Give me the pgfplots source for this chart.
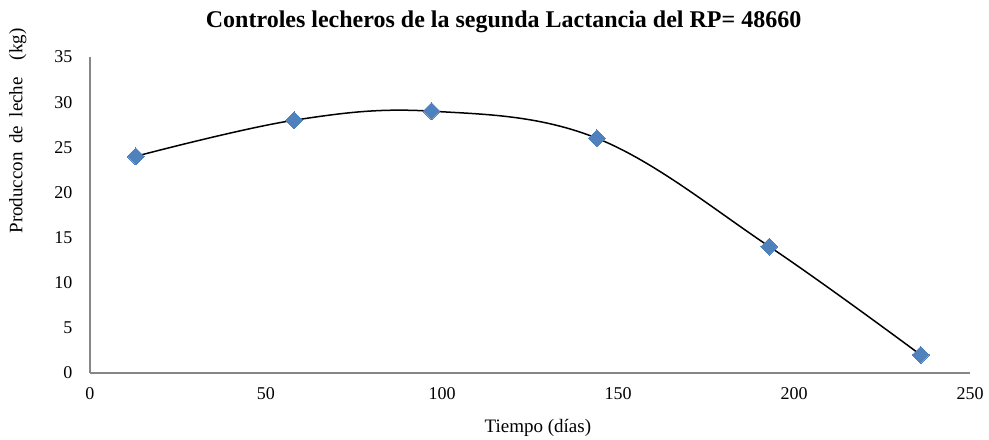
\documentclass[border=0pt]{standalone}
\usepackage{fontspec}
\setmainfont{Liberation Serif}
\usepackage{pgfplots}
\pgfplotsset{compat=1.18}
\definecolor{mk}{RGB}{79,129,189}
\definecolor{ax}{RGB}{134,134,134}
\pgfplotstableread{
x y
13 24
58 28
97 29
144 26
193 14
236 2
}\milk
\begin{document}
\begin{tikzpicture}
\begin{axis}[
  scale only axis, width=880pt, height=316pt,
  xmin=0, xmax=250, ymin=0, ymax=35,
  xtick={0,50,...,250}, ytick={0,5,...,35},
  axis lines*=left, axis line style={ax, line width=1.2pt},
  separate axis lines,
  x axis line style={-}, y axis line style={-},
  tick style={draw=none},
  /pgf/number format/assume math mode=true,
  ticklabel style={font=\fontsize{18}{20}\selectfont},
  xticklabel style={yshift=-11pt},
  yticklabel style={xshift=-14pt},
  xlabel={Tiempo (días)},
  xlabel style={font=\fontsize{19}{21}\selectfont, at={(axis description cs:0.509,0)}, anchor=center, yshift=-55pt},
  ylabel={Produccon\hspace{0.45em}de\hspace{0.45em}leche\hspace{0.9em}(kg)},
  ylabel style={font=\fontsize{19}{21}\selectfont, at={(axis description cs:-0.082,0.766)}, anchor=center},
  title={\textbf{Controles lecheros de la segunda Lactancia del RP= 48660}},
  title style={font=\fontsize{24}{26}\selectfont, at={(0.47,1)}, anchor=center, yshift=29pt},
  clip=false,
]
\addplot[only marks, mark=square*, mark size=6pt,
  mark options={fill=mk, draw=mk, line width=0pt, rotate=45}] table {\milk};
\addplot[black, line width=1.5pt, smooth, tension=0.62, no marks] table {\milk};
\end{axis}
\useasboundingbox (-90pt,-66pt) rectangle (899pt,373pt);
\end{tikzpicture}
\end{document}
